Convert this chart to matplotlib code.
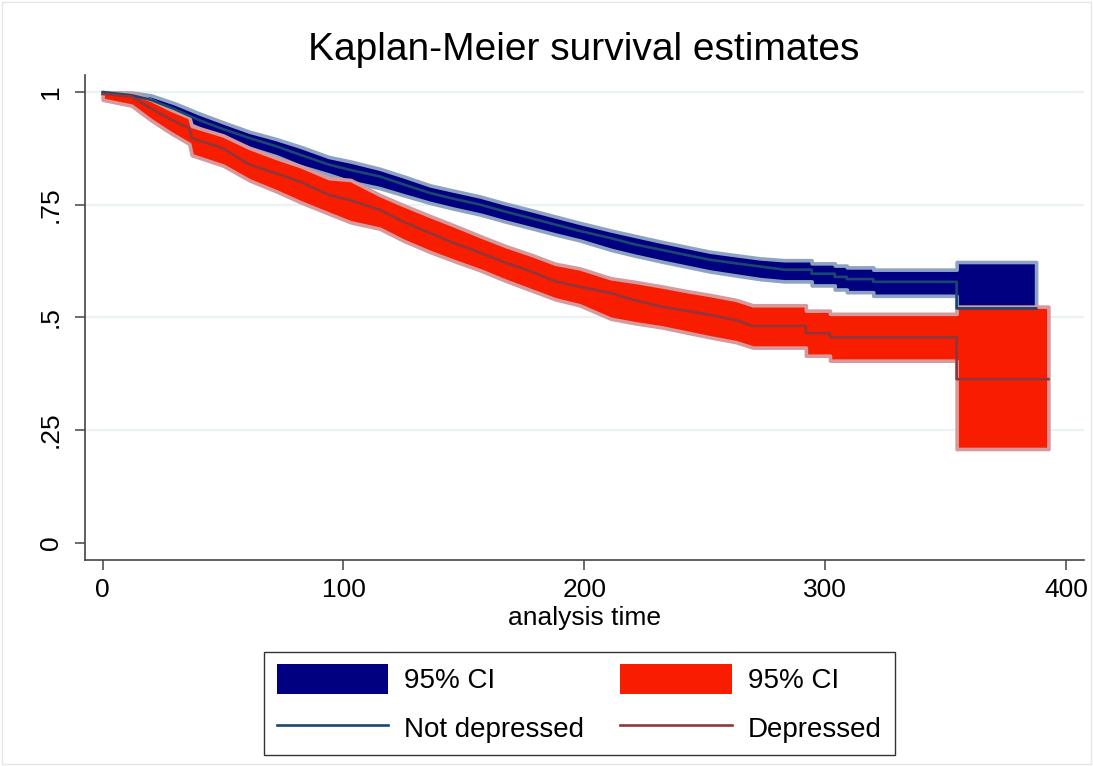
import numpy as np
import matplotlib.pyplot as plt
from matplotlib.patches import Rectangle

plt.rcParams['font.family'] = ['Liberation Sans', 'DejaVu Sans']

# Not depressed: curve vertices (time, estimate, 95% CI bounds);
# repeated times mark the visible vertical jumps of the late steps
t_nd = [0, 12, 20, 30, 40, 50, 61, 72, 82, 94, 103, 115, 125, 136, 146, 157,
        167, 178, 188, 198, 211, 221, 232, 242, 252, 263, 273, 283,
        294.4, 294.4, 304, 304, 309, 309, 320, 320, 354.6, 354.6, 387.6]
s_nd = [1.0, 0.993, 0.983, 0.962, 0.938, 0.918, 0.898, 0.880, 0.861, 0.839,
        0.827, 0.813, 0.795, 0.776, 0.763, 0.750, 0.735, 0.720, 0.706, 0.692,
        0.676, 0.662, 0.650, 0.639, 0.628, 0.620, 0.613, 0.606,
        0.606, 0.597, 0.597, 0.590, 0.590, 0.585, 0.585, 0.579, 0.579, 0.520,
        0.520]
lo_nd = [0.995, 0.982, 0.968, 0.944, 0.920, 0.898, 0.876, 0.858, 0.836, 0.817,
         0.801, 0.787, 0.771, 0.754, 0.741, 0.728, 0.713, 0.698, 0.684, 0.671,
         0.650, 0.637, 0.624, 0.613, 0.602, 0.593, 0.585, 0.580,
         0.580, 0.571, 0.571, 0.562, 0.562, 0.556, 0.556, 0.548, 0.548, 0.420,
         0.420]
hi_nd = [1.0, 0.999, 0.993, 0.975, 0.953, 0.933, 0.912, 0.896, 0.879, 0.856,
         0.846, 0.830, 0.813, 0.793, 0.781, 0.768, 0.753, 0.738, 0.724, 0.710,
         0.693, 0.681, 0.668, 0.657, 0.646, 0.638, 0.631, 0.627,
         0.627, 0.620, 0.620, 0.615, 0.615, 0.611, 0.611, 0.606, 0.606, 0.623,
         0.623]

# Depressed
t_d = [0, 12, 20, 28, 36, 37, 50, 61, 72, 82, 94, 103, 115, 125, 136, 146,
       157, 167, 178, 188, 198, 211, 221, 232, 242, 252, 263, 270,
       292, 292, 302, 302, 354.6, 354.6, 392.7]
s_d = [0.996, 0.990, 0.964, 0.940, 0.920, 0.898, 0.875, 0.839, 0.820, 0.801,
       0.772, 0.760, 0.739, 0.712, 0.687, 0.665, 0.643, 0.622, 0.602, 0.580,
       0.568, 0.554, 0.538, 0.524, 0.515, 0.506, 0.494, 0.481,
       0.481, 0.465, 0.465, 0.456, 0.456, 0.363, 0.363]
lo_d = [0.983, 0.970, 0.938, 0.910, 0.885, 0.860, 0.837, 0.804, 0.780, 0.756,
        0.730, 0.711, 0.697, 0.670, 0.645, 0.625, 0.604, 0.582, 0.560, 0.540,
        0.527, 0.497, 0.487, 0.478, 0.467, 0.456, 0.445, 0.433,
        0.433, 0.415, 0.415, 0.404, 0.404, 0.208, 0.208]
hi_d = [1.0, 0.998, 0.983, 0.962, 0.944, 0.925, 0.904, 0.876, 0.854, 0.836,
        0.809, 0.805, 0.772, 0.749, 0.725, 0.704, 0.680, 0.659, 0.639, 0.619,
        0.609, 0.587, 0.579, 0.569, 0.559, 0.550, 0.539, 0.527,
        0.527, 0.515, 0.515, 0.508, 0.508, 0.524, 0.524]

x_ticks = [0, 100, 200, 300, 400]
y_ticks = [0, 0.25, 0.5, 0.75, 1]
y_labels = ['0', '.25', '.5', '.75', '1']

fig = plt.figure(figsize=(10.93, 7.66), dpi=100)
ax = fig.add_axes([0.0778, 0.2689, 0.914, 0.6332])

for y in y_ticks[1:]:
    ax.axhline(y, color='#eaf2f3', lw=1.6, zorder=0)

ci_nd = ax.fill_between(t_nd, lo_nd, hi_nd, facecolor='#000080',
                        edgecolor='#8ea3c1', lw=2.6, zorder=2)
ci_d = ax.fill_between(t_d, lo_d, hi_d, facecolor='#f91d00',
                       edgecolor='#d6999d', lw=2.6, zorder=3)
ln_nd, = ax.plot(t_nd, s_nd, color='#1a476f', lw=1.9, zorder=4)
ln_d, = ax.plot(t_d, s_d, color='#90353b', lw=1.9, zorder=5)

ax.set_xlim(-7.3, 407.5)
ax.set_ylim(-0.0384, 1.038)
ax.set_xticks(x_ticks)
ax.set_yticks(y_ticks)
ax.set_yticklabels(y_labels, rotation=90, va='center')
ax.tick_params(axis='both', labelsize=19, length=7, width=1.1,
               color='#444444')
ax.tick_params(axis='x', pad=6)
ax.tick_params(axis='y', pad=9)
for side in ['top', 'right']:
    ax.spines[side].set_visible(False)
for side in ['left', 'bottom']:
    ax.spines[side].set_color('#444444')
    ax.spines[side].set_linewidth(1.2)

ax.set_xlabel('analysis time', fontsize=19, labelpad=3)
fig.text(0.534, 0.935, 'Kaplan-Meier survival estimates', fontsize=28,
         ha='center', va='center')

leg = ax.legend([ci_nd, ln_nd, ci_d, ln_d],
                ['95% CI', 'Not depressed', '95% CI', 'Depressed'],
                ncol=2, loc='center', bbox_to_anchor=(0.530, 0.0816),
                bbox_transform=fig.transFigure, fontsize=20, frameon=True,
                fancybox=False, edgecolor='black', handlelength=4.0,
                handleheight=1.25, handletextpad=0.6, columnspacing=1.3,
                labelspacing=0.65, borderpad=0.45)
leg.get_frame().set_linewidth(1.0)
for h in leg.legend_handles:
    if isinstance(h, Rectangle):
        h.set_edgecolor(h.get_facecolor())
        h.set_linewidth(0)

fig.patches.append(Rectangle((0.002, 0.002), 0.996, 0.996, fill=False,
                             edgecolor='#e6e6e6', lw=1.0,
                             transform=fig.transFigure))

fig.savefig('out.png', dpi=100)
